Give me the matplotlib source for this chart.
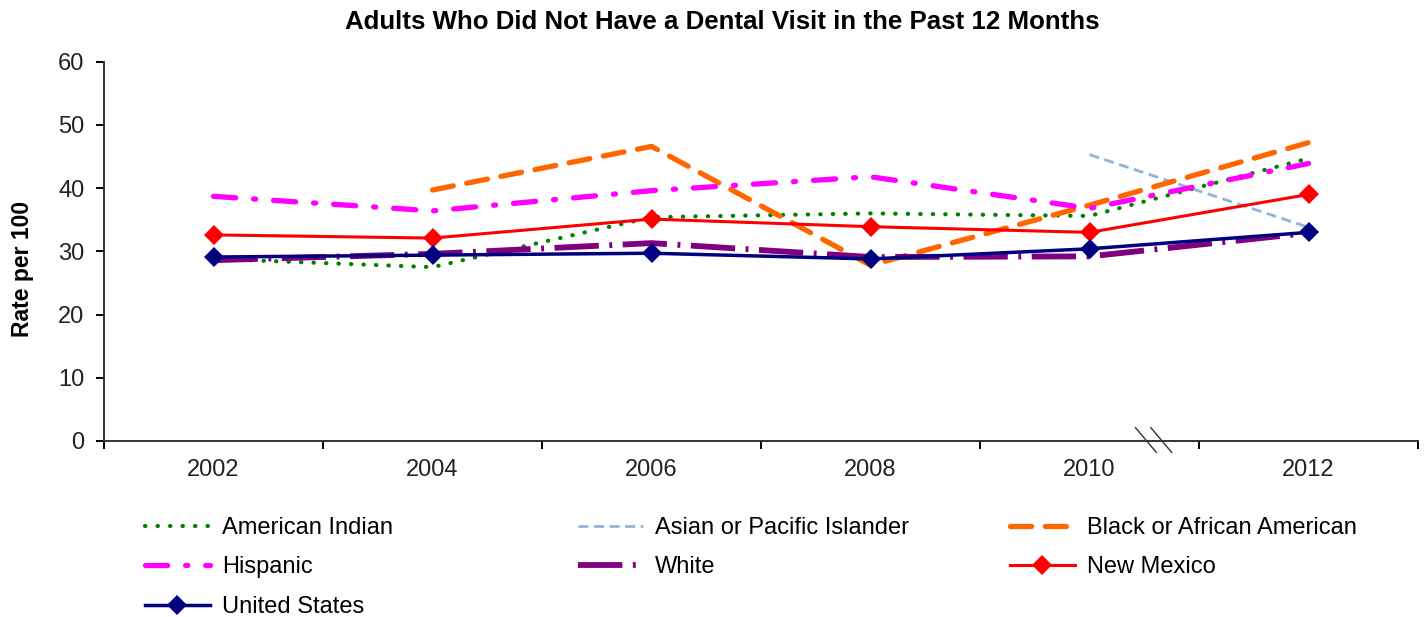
import matplotlib
matplotlib.use('Agg')
import matplotlib.pyplot as plt
import matplotlib.transforms as mtransforms
import numpy as np

plt.rcParams['font.family'] = ['Liberation Sans', 'DejaVu Sans']

years = ['2002', '2004', '2006', '2008', '2010', '2012']
american_indian = [28.8, 27.5, 35.4, 36.0, 35.6, 44.7]
asian_pi = [np.nan, np.nan, np.nan, np.nan, 45.3, 33.8]
black = [np.nan, 39.7, 46.6, 27.8, 37.3, 47.2]
hispanic = [38.7, 36.4, 39.6, 41.8, 36.8, 43.9]
white = [28.6, 29.6, 31.3, 29.1, 29.2, 32.9]
new_mexico = [32.6, 32.1, 35.1, 33.9, 33.0, 39.0]
united_states = [29.1, 29.4, 29.7, 28.8, 30.4, 33.0]

fig = plt.figure(figsize=(14.27, 6.17), dpi=100, facecolor='white')
ax = fig.add_axes([0.0729, 0.2853, 0.9208, 0.6147])

x = np.arange(len(years))

l_ai, = ax.plot(x, american_indian, color='#008000', lw=3.0,
                linestyle=(0, (0.1, 2.9)), dash_capstyle='round')
l_api, = ax.plot(x, asian_pi, color='#95B3D7', lw=2.0,
                 linestyle=(0, (3.6, 2.0)))
l_blk, = ax.plot(x, black, color='#FF6600', lw=3.8,
                 linestyle=(0, (4.0, 2.6)), dash_capstyle='round')
l_his, = ax.plot(x, hispanic, color='#FF00FF', lw=3.8,
                 linestyle=(0, (4.2, 3.4, 0.4, 3.4)), dash_capstyle='round')
l_wht, = ax.plot(x, white, color='#800080', lw=4.2,
                 linestyle=(0, (7.6, 1.8, 0.5, 1.8)))
l_nm, = ax.plot(x, new_mexico, color='#FF0000', lw=2.2,
                marker='D', markersize=10, markeredgewidth=0)
l_us, = ax.plot(x, united_states, color='#000080', lw=2.5,
                marker='D', markersize=10, markeredgewidth=0)

# axes, ticks between categories, labels centred in each band
ax.set_xlim(-0.5, len(years) - 0.5)
ax.set_ylim(0, 60)
ax.set_yticks(range(0, 61, 10))
ax.set_xticks(np.arange(-0.5, len(years), 1.0))
ax.set_xticklabels([])
ax.set_xticks(x, minor=True)
ax.set_xticklabels(years, minor=True)
ax.tick_params(axis='x', which='major', length=6, width=1.4, direction='out')
ax.tick_params(axis='x', which='minor', length=0, pad=13, labelsize=17)
ax.tick_params(axis='y', length=6, width=1.4, direction='out', pad=8,
               labelsize=17, labelcolor='#222222')
ax.tick_params(axis='x', labelcolor='#222222', which='both')
for side in ['top', 'right']:
    ax.spines[side].set_visible(False)
for side in ['left', 'bottom']:
    ax.spines[side].set_linewidth(1.4)
    ax.spines[side].set_color('#333333')

# axis break marks between 2010 and 2012
brk = mtransforms.blended_transform_factory(ax.transData, ax.transAxes)
for xb in (4.21, 4.28):
    ax.plot([xb, xb + 0.095], [0.035, -0.03], color='#333333', lw=1.0,
            transform=brk, clip_on=False)

fig.text(0.506, 1 - 22 / 617, 'Adults Who Did Not Have a Dental Visit in the Past 12 Months',
         ha='center', va='center', fontsize=18.6, fontweight='bold')
fig.text(22 / 1427, 1 - 269 / 617, 'Rate per 100', rotation=90,
         ha='center', va='center', fontsize=16.5, fontweight='bold')

# legend laid out as three columns
cols = [
    ([l_ai, l_his, l_us], ['American Indian', 'Hispanic', 'United States'], 145),
    ([l_api, l_wht], ['Asian or Pacific Islander', 'White'], 578),
    ([l_blk, l_nm], ['Black or African American', 'New Mexico'], 1010),
]
for handles, labels, xpx in cols:
    leg = fig.legend(handles, labels, loc='upper left',
                     bbox_to_anchor=(xpx / 1427, 1 - 517 / 617),
                     frameon=False, fontsize=17, handlelength=2.75,
                     handletextpad=0.5, labelspacing=0.74,
                     borderpad=0, borderaxespad=0, numpoints=1)

fig.savefig('out.png', dpi=100, facecolor='white')
